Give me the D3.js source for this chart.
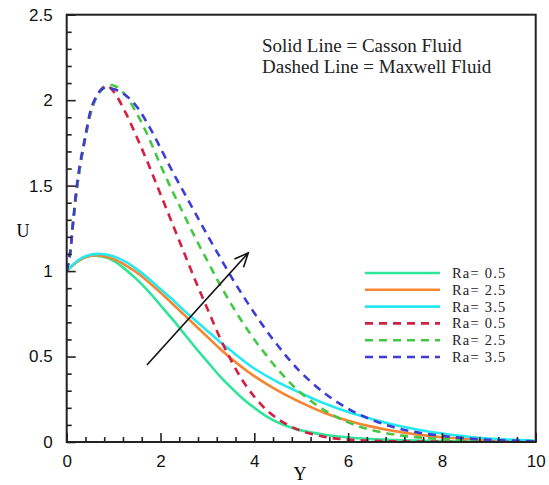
<!DOCTYPE html>
<html><head><meta charset="utf-8">
<script src="https://cdn.jsdelivr.net/npm/d3@7"></script>
<style>body{margin:0;background:#fff}svg{display:block}</style>
</head><body>
<svg id="c" width="549" height="485"></svg>
<script>
// ---- data ----
const legendLabels = ["Ra= 0.5","Ra= 2.5","Ra= 3.5","Ra= 0.5","Ra= 2.5","Ra= 3.5"];
const cassonRa05 = [[0,1.0],[0.25,1.06],[0.5,1.088],[0.75,1.085],[1.0,1.06],[1.25,1.01],[1.5,0.95],[1.75,0.88],[2.0,0.80],[2.25,0.72],[2.5,0.635],[2.75,0.55],[3.0,0.47],[3.25,0.39],[3.5,0.32],[3.75,0.255],[4.0,0.20],[4.25,0.152],[4.5,0.115],[4.75,0.088],[5.0,0.068],[5.5,0.042],[6.0,0.026],[6.5,0.017],[7.0,0.011],[8.0,0.005],[9.0,0.002],[10,0.001]];
const cassonRa25 = [[0,1.0],[0.25,1.06],[0.5,1.09],[0.75,1.09],[1.0,1.07],[1.25,1.035],[1.5,0.99],[1.75,0.935],[2.0,0.875],[2.25,0.81],[2.5,0.745],[2.75,0.68],[3.0,0.615],[3.25,0.55],[3.5,0.49],[3.75,0.435],[4.0,0.385],[4.5,0.30],[5.0,0.23],[5.5,0.17],[6.0,0.125],[6.5,0.09],[7.0,0.063],[7.5,0.043],[8.0,0.028],[9.0,0.011],[10,0.004]];
const cassonRa35 = [[0,1.0],[0.25,1.065],[0.5,1.095],[0.75,1.10],[1.0,1.085],[1.25,1.055],[1.5,1.01],[1.75,0.955],[2.0,0.895],[2.25,0.835],[2.5,0.77],[2.75,0.71],[3.0,0.65],[3.25,0.59],[3.5,0.535],[3.75,0.48],[4.0,0.43],[4.5,0.35],[5.0,0.285],[5.5,0.225],[6.0,0.175],[6.5,0.135],[7.0,0.10],[7.5,0.072],[8.0,0.05],[8.5,0.033],[9.0,0.02],[10,0.007]];
const maxwellRa05 = [[0,1.0],[0.07,1.1],[0.14,1.29],[0.24,1.53],[0.39,1.77],[0.56,1.97],[0.7,2.05],[0.85,2.085],[1.0,2.05],[1.25,1.93],[1.5,1.78],[1.75,1.62],[2.0,1.45],[2.25,1.28],[2.5,1.11],[2.75,0.94],[3.0,0.78],[3.25,0.62],[3.5,0.48],[3.75,0.36],[4.0,0.265],[4.25,0.19],[4.5,0.135],[4.75,0.095],[5.0,0.065],[5.5,0.03],[6.0,0.014],[6.5,0.007],[7.0,0.004],[8.0,0.002],[10,0.0]];
const maxwellRa25 = [[0,1.0],[0.07,1.1],[0.14,1.29],[0.24,1.53],[0.39,1.77],[0.56,1.97],[0.75,2.06],[0.92,2.088],[1.05,2.08],[1.25,2.03],[1.5,1.92],[1.75,1.78],[2.0,1.62],[2.25,1.47],[2.5,1.33],[2.75,1.19],[3.0,1.06],[3.25,0.93],[3.5,0.81],[3.75,0.70],[4.0,0.60],[4.25,0.51],[4.5,0.425],[4.75,0.35],[5.0,0.285],[5.5,0.185],[6.0,0.115],[6.5,0.07],[7.0,0.043],[7.5,0.027],[8.0,0.017],[9.0,0.007],[10,0.003]];
const maxwellRa35 = [[0,1.0],[0.07,1.1],[0.14,1.3],[0.24,1.55],[0.39,1.78],[0.56,1.98],[0.78,2.07],[1.0,2.065],[1.25,2.03],[1.5,1.96],[1.75,1.85],[2.0,1.72],[2.25,1.585],[2.5,1.46],[2.75,1.335],[3.0,1.21],[3.25,1.09],[3.5,0.97],[3.75,0.86],[4.0,0.755],[4.25,0.655],[4.5,0.565],[4.75,0.48],[5.0,0.405],[5.5,0.285],[6.0,0.195],[6.5,0.13],[7.0,0.085],[7.5,0.055],[8.0,0.036],[8.5,0.022],[9.0,0.013],[10,0.004]];
const xTicks = [0,2,4,6,8,10];
const yTicks = [0,0.5,1,1.5,2,2.5];
const yTickLabels = ["0","0.5","1","1.5","2","2.5"];
const arrowFrom = [1.71,0.45], arrowTo = [3.87,1.106];

const series = [
  {data:cassonRa05, color:"#2ee59a", dash:null},
  {data:cassonRa25, color:"#f5862f", dash:null},
  {data:cassonRa35, color:"#26e8f0", dash:null},
  {data:maxwellRa05, color:"#d42040", dash:"8,6"},
  {data:maxwellRa25, color:"#44c844", dash:"8,6"},
  {data:maxwellRa35, color:"#3c3cd6", dash:"8,6"}
];

// ---- layout ----
const L=66.7, R=535.7, T=14.7, B=442;
const x = d3.scaleLinear().domain([0,10]).range([L,R]);
const y = d3.scaleLinear().domain([0,2.5]).range([B,T]);
const svg = d3.select("#c");

svg.append("defs").append("clipPath").attr("id","clip")
  .append("rect").attr("x",L).attr("y",T).attr("width",R-L).attr("height",B-T);

const line = d3.line().x(d=>x(d[0])).y(d=>y(d[1])).curve(d3.curveCatmullRom.alpha(0.5));
const g = svg.append("g").attr("clip-path","url(#clip)");
series.forEach(s=>{
  g.append("path").attr("d",line(s.data)).attr("fill","none")
   .attr("stroke",s.color).attr("stroke-width",2.6)
   .attr("stroke-dasharray",s.dash);
});

// frame
svg.append("rect").attr("x",L).attr("y",T).attr("width",R-L).attr("height",B-T)
  .attr("fill","none").attr("stroke","#222").attr("stroke-width",2);

// y axis ticks (inward)
const yAxis = d3.axisLeft(y).tickValues(yTicks).tickFormat((d,i)=>yTickLabels[i]).tickSize(-9).tickPadding(14);
svg.append("g").attr("transform",`translate(${L},0)`).call(yAxis);
const yMinor = d3.axisLeft(y).tickValues(d3.range(0,2.51,0.1).filter(v=>Math.abs(v*2-Math.round(v*2))>1e-6)).tickSize(-5).tickFormat("");
svg.append("g").attr("transform",`translate(${L},0)`).call(yMinor);
// x axis
const xAxis = d3.axisBottom(x).tickValues(xTicks).tickSize(-9).tickPadding(13);
svg.append("g").attr("transform",`translate(0,${B})`).call(xAxis);
const xMinor = d3.axisBottom(x).tickValues(d3.range(0,10.01,0.4).filter(v=>Math.abs(v/2-Math.round(v/2))>1e-6)).tickSize(-5).tickFormat("");
svg.append("g").attr("transform",`translate(0,${B})`).call(xMinor);
svg.selectAll(".domain").remove();
svg.selectAll(".tick line").attr("stroke","#222").attr("stroke-width",1.6);
svg.selectAll(".tick text").attr("font-family","Liberation Sans, Arial, sans-serif").attr("font-size",17).attr("fill","#111");

// axis titles
svg.append("text").attr("x",300).attr("y",480).attr("text-anchor","middle")
  .attr("font-family","Liberation Serif, Times New Roman, serif").attr("font-size",18).text("Y");
svg.append("text").attr("x",23).attr("y",237).attr("text-anchor","middle")
  .attr("font-family","Liberation Serif, Times New Roman, serif").attr("font-size",18).text("U");

// annotation
const ann = svg.append("g").attr("font-family","Liberation Serif, Times New Roman, serif").attr("font-size",19).attr("fill","#222");
ann.append("text").attr("x",262).attr("y",52).text("Solid Line = Casson Fluid");
ann.append("text").attr("x",262).attr("y",73).text("Dashed Line = Maxwell Fluid");

// legend
const lg = svg.append("g");
series.forEach((s,i)=>{
  const yy = 273 + i*16.8;
  lg.append("line").attr("x1",365).attr("x2",440).attr("y1",yy).attr("y2",yy)
    .attr("stroke",s.color).attr("stroke-width",2.6).attr("stroke-dasharray",s.dash);
  lg.append("text").attr("x",452).attr("y",yy+5).attr("font-family","Liberation Serif, Times New Roman, serif")
    .attr("font-size",14.5).attr("letter-spacing",1.2).attr("fill","#222").text(legendLabels[i]);
});

// arrow
const ax0=x(arrowFrom[0]), ay0=y(arrowFrom[1]), ax1=x(arrowTo[0]), ay1=y(arrowTo[1]);
svg.append("line").attr("x1",ax0).attr("y1",ay0).attr("x2",ax1).attr("y2",ay1).attr("stroke","#111").attr("stroke-width",1.6);
const ang = Math.atan2(ay1-ay0, ax1-ax0), hl=15, spread=0.42;
svg.append("path").attr("d",`M${ax1-hl*Math.cos(ang-spread)},${ay1-hl*Math.sin(ang-spread)}L${ax1},${ay1}L${ax1-hl*Math.cos(ang+spread)},${ay1-hl*Math.sin(ang+spread)}`)
  .attr("fill","none").attr("stroke","#111").attr("stroke-width",1.6);
</script>
</body></html>
